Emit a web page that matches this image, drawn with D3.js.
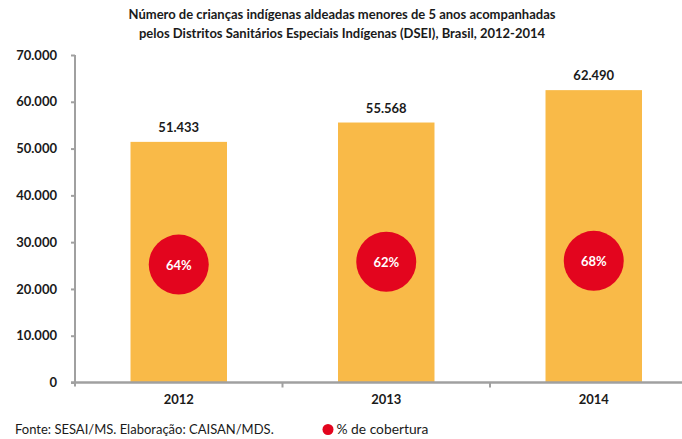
<!DOCTYPE html>
<html>
<head>
<meta charset="utf-8">
<script src="https://cdn.jsdelivr.net/npm/d3@7"></script>
<style>
  body { margin: 0; background: #fff; }
  text { font-family: Lato, 'Open Sans', sans-serif; fill: #1a1a1a; }
</style>
</head>
<body>
<div id="container"></div>
<script>
const years = ['2012', '2013', '2014'];
const criancas = [51433, 55568, 62490];
const cobertura = ['64%', '62%', '68%'];
const marcadorPos = [25200, 25800, 26000];
const yTicks = [0, 10000, 20000, 30000, 40000, 50000, 60000, 70000];
const titulo = [
    'Número de crianças indígenas aldeadas menores de 5 anos acompanhadas',
    'pelos Distritos Sanitários Especiais Indígenas (DSEI), Brasil, 2012-2014'
];

const width = 682;
const height = 439;

const svg = d3.select('#container')
              .append('svg')
              .attr('width', width)
              .attr('height', height);

const x = d3.scaleBand()
            .domain(years)
            .range([75, 697.5])
            .padding(0);

const y = d3.scaleLinear()
            .domain([0, 70000])
            .range([382.5, 55]);

const fmt = d3.formatLocale({ decimal: ',', thousands: '.', grouping: [3], currency: ['', ''] }).format(',');

// titulo
svg.selectAll('.title')
   .data(titulo)
   .enter()
   .append('text')
   .attr('class', 'title')
   .attr('x', 342)
   .attr('y', (d, i) => 19 + i * 18.5)
   .attr('text-anchor', 'middle')
   .style('font-size', '13px')
   .style('font-weight', 'bold')
   .text(d => d);

const barW = x.bandwidth() * 0.465;

svg.selectAll('.bar')
   .data(years)
   .enter()
   .append('rect')
   .attr('class', 'bar')
   .attr('x', d => x(d) + x.bandwidth() / 2 - barW / 2)
   .attr('y', (d, i) => y(criancas[i]))
   .attr('width', barW)
   .attr('height', (d, i) => y(0) - y(criancas[i]))
   .attr('fill', '#F9BA48');

svg.selectAll('.val')
   .data(years)
   .enter()
   .append('text')
   .attr('class', 'val')
   .attr('x', d => x(d) + x.bandwidth() / 2)
   .attr('y', (d, i) => y(criancas[i]) - 10)
   .attr('text-anchor', 'middle')
   .style('font-size', '13px')
   .style('font-weight', 'bold')
   .text((d, i) => fmt(criancas[i]));

svg.selectAll('.dot')
   .data(years)
   .enter()
   .append('circle')
   .attr('class', 'dot')
   .attr('cx', d => x(d) + x.bandwidth() / 2)
   .attr('cy', (d, i) => y(marcadorPos[i]))
   .attr('r', 30)
   .attr('fill', '#E3051E');

svg.selectAll('.pct')
   .data(years)
   .enter()
   .append('text')
   .attr('class', 'pct')
   .attr('x', d => x(d) + x.bandwidth() / 2)
   .attr('y', (d, i) => y(marcadorPos[i]) + 5)
   .attr('text-anchor', 'middle')
   .style('font-size', '13px')
   .style('font-weight', 'bold')
   .style('fill', '#fff')
   .text((d, i) => cobertura[i]);

// eixo y
const yAxis = svg.append('g')
                 .attr('transform', 'translate(75,0)')
                 .call(d3.axisLeft(y).tickValues(yTicks).tickSize(4).tickPadding(14).tickFormat(d => fmt(d)));
yAxis.select('.domain').attr('d', 'M0,' + y(70000) + 'V' + (y(0) + 4)).attr('stroke', '#a0a0a0').attr('stroke-width', 2);
yAxis.selectAll('.tick line').attr('stroke', '#a0a0a0').attr('stroke-width', 2);
yAxis.selectAll('.tick text')
     .style('font-size', '13px')
     .style('font-weight', 'bold')
     .style('font-family', 'Lato, sans-serif')
     .attr('fill', '#1a1a1a');

// eixo x
const xAxis = svg.append('g')
                 .attr('transform', 'translate(0,' + y(0) + ')')
                 .call(d3.axisBottom(x).tickSize(0).tickPadding(12));
xAxis.select('.domain').attr('d', 'M71,0H' + width).attr('stroke', '#a0a0a0').attr('stroke-width', 2.5);
xAxis.selectAll('.tick text')
     .style('font-size', '13px')
     .style('font-weight', 'bold')
     .style('font-family', 'Lato, sans-serif')
     .attr('fill', '#1a1a1a');
xAxis.selectAll('.sep')
     .data(years.slice(1))
     .enter()
     .append('line')
     .attr('class', 'sep')
     .attr('x1', d => x(d))
     .attr('x2', d => x(d))
     .attr('y1', 0)
     .attr('y2', 5)
     .attr('stroke', '#a0a0a0')
     .attr('stroke-width', 2);

// rodape e legenda
svg.append('text')
   .attr('x', 15)
   .attr('y', 434)
   .style('font-size', '13px')
   .text('Fonte: SESAI/MS. Elaboração: CAISAN/MDS.');

svg.append('circle')
   .attr('cx', 328)
   .attr('cy', 429.5)
   .attr('r', 5.5)
   .attr('fill', '#E3051E');

svg.append('text')
   .attr('x', 336.5)
   .attr('y', 434)
   .style('font-size', '13.8px')
   .text('% de cobertura');
</script>
</body>
</html>
